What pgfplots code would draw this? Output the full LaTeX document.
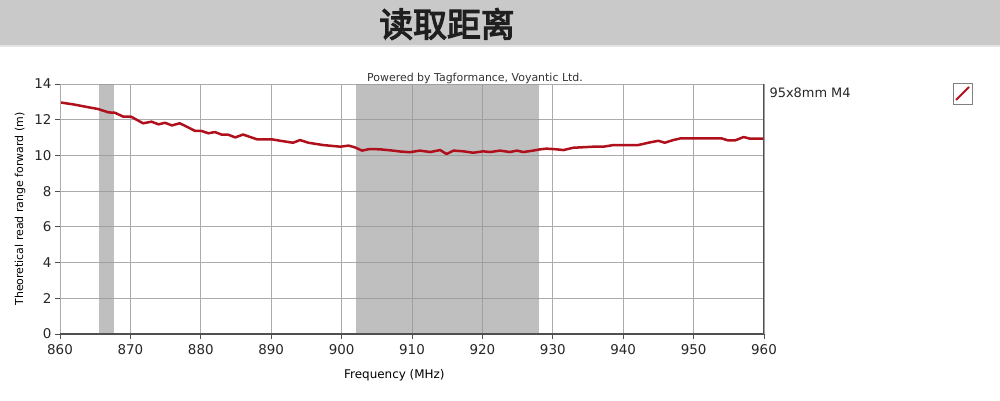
\documentclass[border=0pt]{standalone}
\usepackage{pgfplots}
\pgfplotsset{compat=1.18}
\usepackage{fontspec}
\setmainfont{DejaVu Sans}
\newfontfamily\cjk[FakeBold=3.5]{Noto Sans CJK SC}
\definecolor{banner}{HTML}{C9C9C9}
\definecolor{bannerline}{HTML}{E4E4E4}
\definecolor{shade}{HTML}{999999}
\definecolor{gridc}{HTML}{ABABAB}
\definecolor{curve}{HTML}{B0101C}
\definecolor{axdark}{HTML}{505050}
\begin{document}
\begin{tikzpicture}[x=1bp,y=1bp]
\fill[white] (0,0) rectangle (1000,400);
\fill[banner] (0,355) rectangle (1000,400);
\fill[bannerline] (0,353) rectangle (1000,355);
\node[font={\cjk\fontsize{34}{34}\selectfont}, text=black!88] at (447,376) {读取距离};
\begin{axis}[
  scale only axis,
  width=704bp, height=250bp,
  at={(60bp,66bp)}, anchor=south west,
  xmin=860, xmax=960, ymin=0, ymax=14,
  xtick={860,870,...,960}, ytick={0,2,...,14},
  grid=major,
  major grid style={gridc, line width=0.9bp},
  axis line style={draw=none},
  tick style={axdark, line width=0.8bp},
  tick align=outside,
  major tick length=5bp,
  xtick pos=bottom, ytick pos=left,
  /pgf/number format/assume math mode=true,
  /pgf/number format/1000 sep={},
  tick label style={font=\fontsize{13.5}{14}\selectfont, text=black!85},
  xticklabel style={yshift=-2bp},
  xlabel={Frequency (MHz)},
  ylabel={Theoretical read range forward (m)},
  xlabel style={font=\fontsize{12}{13}\selectfont, at={(axis description cs:0.475,-0.164)}, anchor=center},
  ylabel style={font=\fontsize{11}{12}\selectfont, yshift=2bp},
]
\addplot[fill=shade, fill opacity=0.62, draw=none] coordinates {(865.6,0) (865.6,14) (867.6,14) (867.6,0)} -- cycle;
\addplot[fill=shade, fill opacity=0.62, draw=none] coordinates {(902,0) (902,14) (928,14) (928,0)} -- cycle;
\addplot[curve, line width=2.5bp, line join=round] coordinates {
(860,12.97) (862,12.85) (864,12.7) (865.4,12.6) (866.9,12.41) (867.8,12.39)
(869,12.17) (870.1,12.17) (871.8,11.8) (873,11.89) (874,11.74) (874.9,11.83)
(875.9,11.68) (877,11.8) (877.8,11.65) (879.2,11.37) (880.1,11.37) (881.1,11.24)
(882,11.31) (883,11.16) (883.9,11.16) (884.9,11.01) (886,11.17) (888,10.9)
(890.1,10.9) (891.3,10.82) (893.1,10.71) (894.1,10.86) (895.3,10.71) (897.4,10.58)
(899.8,10.49) (901,10.55) (901.9,10.45) (902.9,10.27) (904,10.36) (905.5,10.34)
(907.3,10.27) (908.3,10.22) (909.7,10.18) (911.1,10.27) (912.6,10.19) (914,10.3)
(914.9,10.08) (915.9,10.27) (917.3,10.23) (918.7,10.15) (920.1,10.23) (921.1,10.19)
(922.5,10.27) (923.9,10.19) (924.9,10.27) (925.8,10.19) (927.2,10.27) (928.2,10.34)
(929.1,10.38) (930.6,10.34) (931.5,10.3) (932.9,10.43) (933.9,10.45) (935.8,10.49)
(937.2,10.49) (938.6,10.58) (940,10.58) (942.1,10.58) (943.8,10.73) (945,10.82)
(945.9,10.71) (947.1,10.86) (948.1,10.95) (950.4,10.95) (954,10.95) (954.9,10.84)
(955.9,10.84) (957.1,11.03) (958,10.94) (960,10.94)
};
\draw[gridc, line width=0.9bp] (rel axis cs:0,0) -- (rel axis cs:0,1);
\draw[axdark, line width=1.2bp] (rel axis cs:0,0) -- (rel axis cs:1,0) -- (rel axis cs:1,1);
\end{axis}
\node[font=\fontsize{11}{12}\selectfont, text=black!80] at (475,322) {Powered by Tagformance, Voyantic Ltd.};
\node[font=\fontsize{13}{14}\selectfont, text=black!85, anchor=west] at (766,307) {95x8mm M4};
\draw[gray, line width=0.8bp, fill=white] (953,296) rectangle (972,317);
\draw[curve, line width=1.8bp] (956,300) -- (969,313);
\end{tikzpicture}
\end{document}
